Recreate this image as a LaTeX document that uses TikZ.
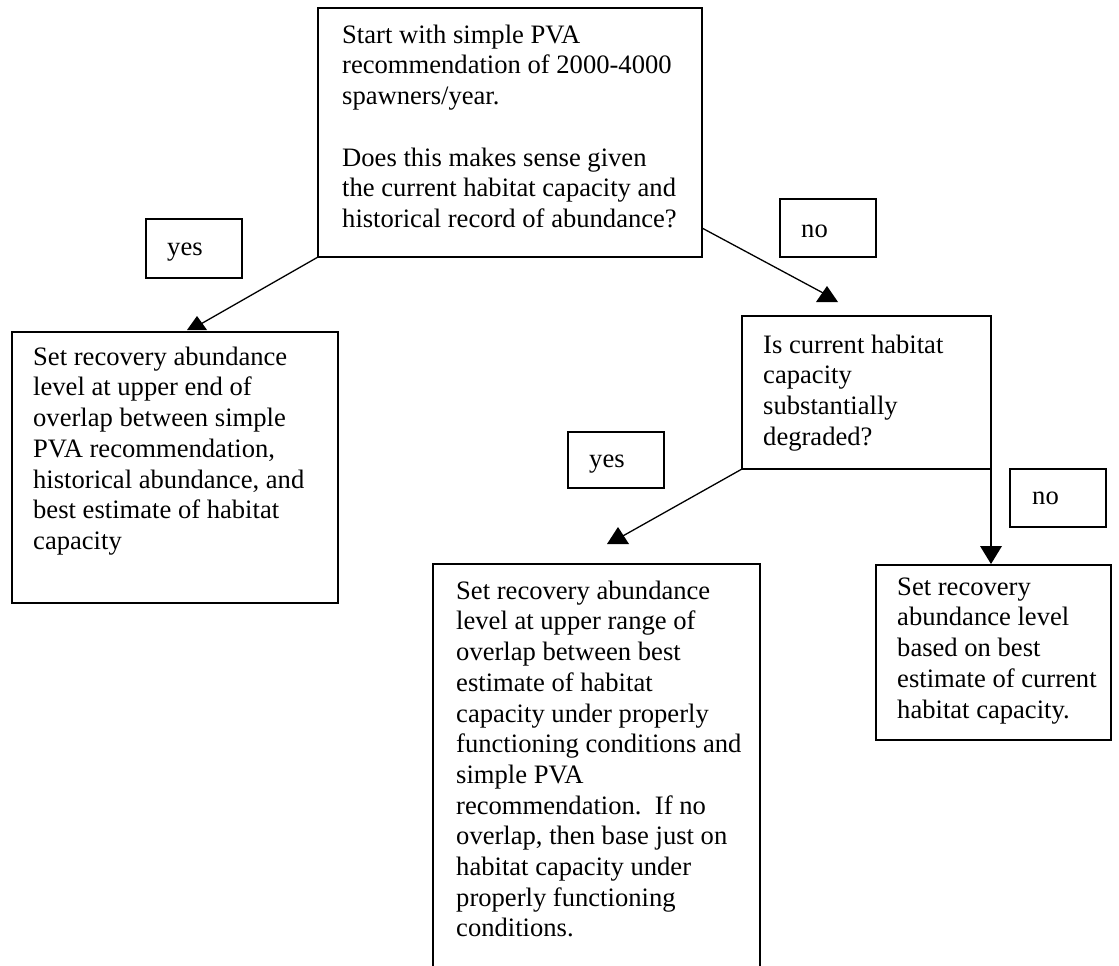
\documentclass[tikz,border=0pt]{standalone}
\usepackage{fontspec}
\setmainfont{Liberation Serif}
\newcommand\firstln{\rule{0pt}{24pt}}
\begin{document}
\begin{tikzpicture}[x=1pt,y=-1pt,
  box/.style={draw, line width=1.5pt, inner sep=0pt, outer sep=0pt, anchor=north west},
  txt/.style={anchor=north west, inner sep=0pt, align=left, font=\fontsize{26.6}{30.7}\selectfont},
  conn/.style={line width=1.3pt},
  head/.style={fill=black}]
\clip (0,0) rectangle (1119,966);
% boxes
\node[box, minimum width=384pt, minimum height=249pt] (start) at (318,8) {};
\node[box, minimum width=326pt, minimum height=271pt] (left) at (12,332) {};
\node[box, minimum width=249pt, minimum height=153pt] (degr) at (742,316) {};
\node[box, minimum width=327pt, minimum height=440pt] (upper) at (433,564) {};
\node[box, minimum width=235pt, minimum height=175pt] (curr) at (876,565) {};
\node[box, minimum width=96pt, minimum height=59pt] (yesA) at (146,219) {};
\node[box, minimum width=96pt, minimum height=58pt] (noA) at (780,199) {};
\node[box, minimum width=96pt, minimum height=56pt] (yesB) at (568,432) {};
\node[box, minimum width=96pt, minimum height=58pt] (noB) at (1010,469) {};
% texts
\node[txt] (startT) at (342,19) {\firstln Start with simple PVA\\recommendation of 2000-4000\\spawners/year.\\[30.7pt]Does this makes sense given\\the current habitat capacity and\\historical record of abundance?};
\node[txt] (leftT) at (33,341) {\firstln Set recovery abundance\\level at upper end of\\overlap between simple\\PVA recommendation,\\historical abundance, and\\best estimate of habitat\\capacity};
\node[txt] (degrT) at (763,329) {\firstln Is current habitat\\capacity\\substantially\\degraded?};
\node[txt] (upperT) at (456,575) {\firstln Set recovery abundance\\level at upper range of\\overlap between best\\estimate of habitat\\capacity under properly\\functioning conditions and\\simple PVA\\recommendation.\ \ If no\\overlap, then base just on\\habitat capacity under\\properly functioning\\conditions.};
\node[txt] (currT) at (897,571) {\firstln Set recovery\\abundance level\\based on best\\estimate of current\\habitat capacity.};
\node[txt] (yesAT) at (167,231) {\firstln yes};
\node[txt] (noAT) at (801,213) {\firstln no};
\node[txt] (yesBT) at (589,443) {\firstln yes};
\node[txt] (noBT) at (1032,480) {\firstln no};
% connectors
\coordinate (e1) at (199,325);
\coordinate (t1) at (197,316);
\coordinate (s2) at (702,228);
\coordinate (e2) at (825,294);
\coordinate (t2) at (827,286);
\coordinate (e3) at (621,537);
\coordinate (t3) at (618,527);
\coordinate (e4) at (degr.south east |- 0,548);
\coordinate (t4) at (degr.south east |- 0,564);
\draw[conn] (start.south west) -- (e1);
\fill[head] (t1) -- ++(-10,14) -- ++(20,0) -- cycle;
\draw[conn] (s2) -- (e2);
\fill[head] (t2) -- ++(-11,16) -- ++(22,0) -- cycle;
\draw[conn] (degr.south west) -- (e3);
\fill[head] (t3) -- ++(-11,17) -- ++(22,0) -- cycle;
\draw[conn] (degr.south east) -- (e4);
\fill[head] (t4) -- ++(-11,-18) -- ++(22,0) -- cycle;
\end{tikzpicture}
\end{document}
